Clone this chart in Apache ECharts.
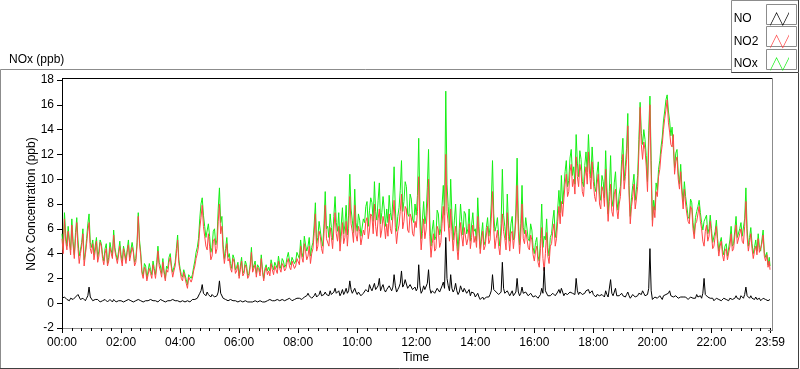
<!DOCTYPE html>
<html>
<head>
<meta charset="utf-8">
<script src="https://cdn.jsdelivr.net/npm/echarts@6/dist/echarts.min.js"></script>
<style>
html,body{margin:0;padding:0;background:#fff;}
#c{width:800px;height:369px;}
</style>
</head>
<body>
<div id="c"></div>
<script>
// Sampling: one value every 2.5 minutes from 00:00, last value at 23:59
const SAMPLE_MIN = 2.5;
const LAST_MIN = 1439;
const seriesNames = ['NO', 'NO2', 'NOx'];

const NO2 = [
 5.2,4.0,6.8,5.0,4.3,5.8,4.9,3.9,6.3,4.7,3.6,5.2,6.5,4.4,3.2,4.0,4.6,5.6,3.0,3.9,4.8,5.8,6.5,4.4,
 4.0,4.8,3.5,4.2,5.0,3.3,3.8,4.9,4.6,3.6,3.1,4.0,4.4,3.0,3.4,4.5,4.0,3.6,5.5,4.2,3.7,3.2,3.9,4.6,
 3.6,3.0,4.4,3.8,3.2,4.1,4.7,3.4,3.5,4.5,4.1,3.0,3.3,4.6,7.0,4.8,3.8,2.4,2.0,2.9,2.7,1.8,2.3,2.8,
 2.4,2.0,3.1,2.6,2.0,2.9,4.2,3.0,2.6,2.1,3.3,2.4,1.8,2.7,2.5,3.3,3.7,2.8,2.1,2.6,3.0,4.0,5.1,3.2,
 2.6,2.0,1.8,2.5,2.4,1.6,1.2,2.1,2.2,1.7,2.0,2.6,3.0,3.6,4.0,4.6,6.0,6.9,7.9,6.2,5.4,4.6,4.3,5.6,
 4.6,3.5,3.8,5.0,5.2,4.0,4.4,6.6,8.0,5.6,6.2,4.2,3.2,4.0,4.8,3.4,3.6,2.8,2.5,3.6,3.3,2.4,2.6,3.1,
 2.0,2.7,3.4,2.2,2.4,3.1,2.8,2.0,2.2,2.9,4.1,2.5,2.6,3.1,2.1,2.9,2.7,2.2,3.6,2.5,1.8,2.6,2.9,2.3,
 2.6,2.2,3.2,2.7,2.3,3.0,2.9,2.4,3.4,2.8,2.5,3.2,3.0,2.6,2.8,3.3,3.6,2.9,2.7,3.4,3.3,2.8,3.0,3.6,
 3.6,3.1,4.6,3.7,3.3,4.8,4.2,3.5,3.8,4.6,3.2,4.0,4.4,5.6,7.2,4.2,4.6,5.8,5.4,4.4,4.0,5.6,7.9,5.2,
 5.2,4.6,6.1,5.3,4.4,6.0,7.3,5.6,5.0,6.2,4.2,5.4,6.5,4.8,5.3,6.6,4.6,6.0,8.6,6.4,5.8,4.9,7.9,5.5,
 5.0,6.2,5.8,4.7,4.6,5.9,5.5,6.6,6.9,5.2,5.9,7.2,7.0,5.6,8.0,6.2,5.4,6.8,7.6,5.3,5.9,7.0,6.4,5.2,
 6.4,5.4,7.2,6.0,5.6,7.0,8.3,6.1,4.8,5.8,6.3,7.4,8.8,6.0,6.6,7.8,7.6,5.9,5.7,7.2,6.9,5.6,5.4,6.6,
 6.1,7.4,10.2,6.3,4.3,5.6,6.8,5.2,5.9,7.6,10.0,5.4,3.7,4.8,5.6,4.2,4.4,6.2,5.9,4.5,4.9,6.4,7.8,5.8,
 12.0,7.4,6.4,5.0,7.6,5.8,4.2,5.5,6.2,4.6,3.5,5.0,6.5,5.4,4.6,6.1,6.0,4.7,5.2,6.4,4.4,5.3,6.3,4.9,
 5.4,4.5,7.0,5.6,4.0,5.0,5.8,4.3,4.6,5.5,6.2,4.8,5.1,6.8,9.0,6.0,4.4,5.2,5.9,4.6,3.9,5.4,7.2,5.8,
 5.2,4.3,7.3,5.4,4.2,5.6,5.8,4.4,4.5,6.6,9.5,5.8,4.0,5.5,8.0,5.2,4.8,5.9,6.0,4.5,4.3,5.5,5.1,3.9,
 3.4,4.2,4.6,3.3,2.9,4.4,6.1,3.6,2.6,4.0,5.7,3.8,3.2,4.6,4.8,5.8,6.4,4.6,5.2,6.6,7.8,6.4,8.2,7.0,
 8.4,9.6,10.4,8.6,9.0,10.6,11.2,9.4,10.0,8.8,11.8,10.2,9.4,11.2,10.6,9.0,8.6,10.2,11.0,9.6,12.2,10.4,9.2,11.4,
 9.8,8.6,8.2,9.6,10.4,8.0,7.6,9.4,9.0,7.8,10.8,8.4,6.6,8.2,9.6,7.4,7.0,8.8,9.2,7.6,6.8,8.0,8.6,10.6,
 12.0,9.2,10.2,11.6,14.3,8.8,6.4,7.8,8.6,9.6,7.6,8.4,9.4,12.2,15.8,12.8,11.6,13.0,12.4,11.0,9.0,12.6,16.0,10.4,
 6.2,7.8,6.9,9.0,8.6,10.2,10.8,12.0,12.8,14.0,14.9,15.6,16.4,14.6,13.8,12.8,12.6,13.6,10.4,11.4,11.8,10.0,9.2,10.6,
 8.8,7.6,9.2,8.0,7.2,6.6,6.4,7.8,7.6,6.0,5.2,6.4,6.6,7.2,7.8,6.6,6.0,5.0,4.6,5.8,6.3,5.0,5.4,6.6,
 5.6,4.4,4.6,5.4,6.2,4.8,3.8,4.6,5.0,3.9,3.4,4.2,4.4,3.5,3.6,4.6,5.6,4.2,4.4,5.4,6.3,4.8,4.9,5.6,
 6.0,5.0,4.8,6.2,8.2,5.4,4.2,4.9,5.6,4.4,3.6,4.2,4.6,3.9,5.2,4.1,4.0,4.8,5.5,3.8,3.4,3.9,2.9,3.4,
 2.7
];

const NO = [
 0.4,0.3,0.5,0.6,0.3,0.4,0.2,0.4,0.5,0.3,0.3,0.5,0.4,0.7,0.6,0.3,0.3,0.4,0.5,0.2,0.4,0.6,1.3,0.5,
 0.4,0.2,0.3,0.3,0.2,0.3,0.3,0.1,0.1,0.2,0.2,0.3,0.3,0.1,0.2,0.3,0.2,0.1,0.3,0.2,0.1,0.2,0.2,0.3,
 0.2,0.3,0.1,0.2,0.2,0.1,0.3,0.2,0.2,0.3,0.1,0.2,0.2,0.2,0.3,0.2,0.2,0.1,0.1,0.2,0.2,0.1,0.2,0.3,
 0.3,0.2,0.2,0.1,0.2,0.3,0.1,0.2,0.3,0.2,0.2,0.1,0.1,0.2,0.2,0.3,0.2,0.1,0.3,0.2,0.2,0.3,0.2,0.2,
 0.1,0.2,0.2,0.1,0.1,0.2,0.2,0.1,0.1,0.2,0.3,0.2,0.3,0.4,0.4,0.5,0.8,1.0,1.5,0.8,0.7,0.6,0.9,0.7,
 0.6,0.5,0.7,0.6,0.5,0.6,0.6,0.9,1.8,0.8,0.7,0.4,0.3,0.3,0.3,0.2,0.2,0.3,0.2,0.2,0.1,0.2,0.2,0.1,
 0.1,0.2,0.2,0.1,0.1,0.2,0.2,0.1,0.1,0.1,0.2,0.1,0.1,0.2,0.2,0.1,0.1,0.2,0.1,0.1,0.2,0.1,0.1,0.2,
 0.2,0.3,0.2,0.2,0.3,0.2,0.2,0.3,0.3,0.2,0.2,0.3,0.3,0.2,0.2,0.3,0.3,0.4,0.3,0.2,0.2,0.3,0.3,0.4,
 0.3,0.4,0.4,0.3,0.3,0.5,0.5,0.6,0.8,0.6,0.5,0.4,0.4,0.6,0.8,0.5,0.6,0.7,1.0,0.6,0.5,0.7,0.9,0.7,
 0.8,0.6,1.0,0.7,0.6,0.9,1.2,0.8,0.7,1.0,0.6,0.8,1.1,0.7,0.9,1.2,0.8,1.0,1.8,1.1,0.8,0.7,1.2,0.9,
 0.7,0.9,0.8,0.6,0.6,0.8,0.9,1.1,1.2,0.9,1.5,1.2,1.0,0.9,1.6,1.1,1.2,1.4,2.0,1.0,1.3,1.5,1.1,0.9,
 1.1,1.0,1.4,1.2,1.0,1.3,2.3,1.4,0.9,1.1,1.3,1.6,2.6,1.3,1.5,1.9,1.8,1.2,1.2,1.5,1.4,1.1,1.0,1.3,
 1.0,1.2,3.1,1.4,0.8,1.0,1.4,1.1,1.2,1.6,2.7,1.2,0.8,1.0,1.0,0.8,0.9,1.2,1.3,0.9,1.0,1.4,1.7,1.2,
 5.3,2.0,1.4,1.0,2.3,1.2,0.9,1.1,1.6,1.0,0.7,0.9,1.4,1.1,0.9,1.2,1.1,0.8,0.8,1.1,0.6,0.9,1.0,0.8,
 0.5,0.4,0.8,0.5,0.3,0.4,0.5,0.3,0.3,0.5,0.6,0.5,0.7,1.0,2.3,1.1,1.2,0.9,0.8,0.7,0.6,0.9,3.3,1.2,
 0.8,0.7,1.0,0.8,0.6,0.7,1.0,0.6,0.6,0.9,2.0,0.9,0.6,0.8,1.3,0.8,0.7,0.9,0.9,0.6,0.6,0.8,0.7,0.5,
 0.5,0.6,0.6,0.4,0.4,0.7,1.2,0.8,2.9,1.0,0.9,0.6,0.5,0.6,0.7,0.8,0.9,0.6,0.6,0.9,1.1,0.8,1.2,0.9,
 0.6,0.8,0.9,0.7,0.7,0.9,1.0,0.8,0.8,0.7,2.0,1.0,0.7,0.9,0.8,0.7,0.6,0.8,1.0,0.9,1.1,0.8,0.7,1.0,
 0.7,0.6,0.5,0.7,0.8,0.6,0.5,0.7,0.6,0.5,1.0,0.7,0.5,0.6,1.9,0.8,0.6,0.7,1.2,0.6,0.5,0.6,0.6,0.8,
 0.6,0.5,0.5,0.7,0.9,0.6,0.4,0.5,0.7,0.6,0.5,0.6,0.6,0.8,0.9,0.7,1.0,0.8,0.6,0.7,0.7,1.2,4.4,1.0,
 0.3,0.4,0.5,0.6,0.4,0.5,0.6,0.5,0.3,0.6,0.5,0.7,0.7,0.8,1.0,0.6,0.6,0.5,0.4,0.6,0.5,0.4,0.3,0.5,
 0.4,0.5,0.6,0.5,0.4,0.3,0.3,0.5,0.5,0.4,0.3,0.4,0.7,0.5,0.5,0.6,0.4,0.8,2.0,0.7,0.8,0.5,0.5,0.4,
 0.3,0.4,0.2,0.3,0.4,0.3,0.3,0.2,0.2,0.3,0.4,0.3,0.3,0.2,0.2,0.4,0.5,0.3,0.3,0.4,0.6,0.4,0.5,0.3,
 0.6,0.5,0.4,0.7,1.3,0.6,0.5,0.4,0.6,0.4,0.4,0.3,0.5,0.3,0.3,0.4,0.2,0.3,0.4,0.3,0.3,0.2,0.2,0.3,
 0.3
];

const NOX = [
 5.6,4.3,7.3,5.6,4.6,6.2,5.1,4.3,6.8,5.0,3.9,5.7,6.9,5.1,3.8,4.3,4.9,6.0,3.5,4.1,5.2,6.4,7.2,4.9,
 4.5,5.1,3.9,4.6,5.3,3.7,4.2,5.1,4.8,3.9,3.4,4.4,4.8,3.2,3.7,4.9,4.3,3.8,5.9,4.5,3.9,3.5,4.2,5.0,
 3.9,3.4,4.6,4.1,3.5,4.3,5.1,3.7,3.8,4.9,4.3,3.3,3.6,4.9,7.3,5.1,4.1,2.6,2.2,3.2,3.0,2.0,2.6,3.2,
 2.7,2.3,3.4,2.8,2.3,3.3,4.6,3.3,3.0,2.4,3.6,2.6,2.0,3.0,2.8,3.7,4.0,3.0,2.5,2.9,3.3,4.4,5.5,3.5,
 2.8,2.3,2.1,2.7,2.6,1.9,1.5,2.3,2.4,2.0,2.3,2.9,3.4,4.1,4.5,5.2,6.8,8.0,8.5,7.1,6.2,5.3,5.2,6.4,
 5.4,4.1,4.5,5.8,6.0,4.7,5.1,7.6,9.3,6.5,7.0,4.7,3.6,4.4,5.3,3.7,4.0,3.2,2.8,3.9,3.6,2.7,2.9,3.3,
 2.2,3.0,3.7,2.4,2.6,3.4,3.1,2.2,2.4,3.1,4.5,2.7,2.8,3.4,2.4,3.1,2.9,2.5,3.9,2.7,2.0,2.8,3.1,2.6,
 2.9,2.6,3.5,3.0,2.7,3.3,3.2,2.8,3.8,3.1,2.8,3.6,3.4,2.9,3.1,3.7,4.1,3.4,3.1,3.7,3.6,3.2,3.4,4.1,
 4.0,3.6,5.1,4.1,3.7,5.4,4.7,4.2,4.6,5.3,3.8,4.5,4.9,6.3,8.1,4.8,5.3,6.6,6.5,5.1,4.6,6.4,9.0,6.0,
 6.2,5.3,7.2,6.1,5.1,7.0,8.6,6.5,5.8,7.3,4.9,6.3,7.7,5.6,6.3,7.9,5.5,7.1,10.4,7.6,6.7,5.7,9.2,6.5,
 5.8,7.2,6.7,5.4,5.3,6.8,6.5,7.8,8.2,6.2,7.5,8.5,8.1,6.6,9.8,7.4,6.7,8.3,9.7,6.4,7.3,8.6,7.6,6.2,
 7.6,6.5,8.7,7.3,6.7,8.4,11.0,7.6,5.8,7.0,7.7,9.1,11.5,7.4,8.2,9.8,9.4,7.2,7.0,8.8,8.4,6.8,6.5,8.0,
 7.1,8.7,13.3,7.8,5.2,6.7,8.2,6.4,7.1,9.3,12.4,6.7,4.6,5.9,6.7,5.1,5.4,7.5,7.2,5.5,6.0,7.9,9.5,7.1,
 17.1,9.6,7.8,6.1,10.0,7.1,5.1,6.7,8.0,5.7,4.2,6.0,8.0,6.6,5.5,7.4,7.2,5.6,6.0,7.6,5.0,6.3,7.3,5.8,
 6.0,5.0,8.5,6.2,4.4,5.5,6.5,4.7,5.0,6.1,6.9,5.4,6.1,8.0,11.5,7.2,5.8,6.2,6.9,5.4,4.6,6.4,10.8,7.1,
 6.2,5.1,8.8,6.3,5.0,6.4,7.0,5.1,5.3,7.6,11.7,6.8,4.7,6.4,9.5,6.1,5.6,6.9,7.0,5.2,5.0,6.4,5.9,4.5,
 4.0,4.9,5.3,3.8,3.4,5.2,8.0,4.5,5.4,5.1,6.8,4.5,3.8,5.3,5.6,6.7,7.5,5.3,5.9,7.6,9.1,7.3,10.3,8.0,
 9.2,10.6,11.5,9.4,9.9,11.7,12.4,10.3,11.0,9.6,13.6,11.3,10.2,12.3,11.6,9.8,9.4,11.1,12.2,10.6,13.6,11.3,10.1,12.6,
 10.8,9.4,9.0,10.5,11.4,8.8,8.3,10.3,9.8,8.5,12.3,9.3,7.2,9.0,11.9,8.4,7.8,9.7,10.6,8.4,7.5,8.8,9.4,11.6,
 13.3,9.9,11.0,12.5,15.3,9.5,7.0,8.5,9.5,10.4,8.3,9.2,10.3,13.2,16.2,13.7,12.8,14.0,13.2,11.9,9.8,13.9,16.7,11.5,
 6.7,8.3,7.5,9.7,9.1,10.8,11.5,12.6,13.4,14.7,15.5,16.4,16.8,15.5,14.7,13.5,14.2,14.2,10.9,12.1,12.4,10.5,9.6,11.2,
 9.3,8.2,9.8,8.6,7.8,7.0,6.8,8.4,8.1,6.5,5.6,6.9,7.4,7.8,8.3,7.3,6.5,5.9,6.6,6.6,7.1,5.6,6.0,7.1,
 6.0,4.9,4.9,5.8,6.7,5.2,4.2,4.9,5.3,4.3,3.9,4.6,4.8,3.8,3.9,5.1,6.2,4.6,4.8,5.9,7.0,5.3,5.4,6.0,
 6.5,5.4,5.3,6.8,9.3,6.0,4.6,5.3,6.1,4.8,4.0,4.5,5.1,4.2,5.6,4.5,4.2,5.1,5.9,4.1,3.7,4.1,3.1,3.7,
 3.0
];

const yTicks = { min: -2, max: 18, interval: 2 };
const xTicks = { min: 0, max: LAST_MIN, interval: 120 };

const times = NO2.map((_, i) => Math.min(i * SAMPLE_MIN, LAST_MIN));
const pairs = arr => arr.map((v, i) => [times[i], v]);

const FONT = 'Liberation Sans';
const GRAY = '#8c8c8c';
const DARK = '#404040';
const colors = { NO: '#000000', NO2: '#ff4646', NOx: '#14f014' };
const ZIG = 'path://M0,16 L8,0 L16,16 L24,0 L24,2 L16,18 L8,2 L0,18 Z';

function fmtTime(v) {
  const h = Math.floor(v / 60), m = Math.round(v % 60);
  return String(h).padStart(2, '0') + ':' + String(m).padStart(2, '0');
}

const chart = echarts.init(document.getElementById('c'), null, { renderer: 'canvas' });
chart.setOption({
  animation: false,
  backgroundColor: '#ffffff',
  textStyle: { fontFamily: FONT },
  title: {
    text: 'NOx (ppb)', left: 4, top: 49,
    textStyle: { fontFamily: FONT, fontSize: 12, fontWeight: 'normal', color: '#000' }
  },
  graphic: [
    { type: 'polyline', z: 0, silent: true, shape: { points: [[0.5, 368], [0.5, 69.5], [731, 69.5]] }, style: { stroke: GRAY, fill: null, lineWidth: 1 } },
    { type: 'polyline', z: 0, silent: true, shape: { points: [[0, 368.5], [798.5, 368.5], [798.5, 72]] }, style: { stroke: DARK, fill: null, lineWidth: 1 } },
    { type: 'rect', z: 1, silent: true, shape: { x: 731, y: 0, width: 69, height: 73 }, style: { fill: '#fff', stroke: null } },
    { type: 'polyline', z: 1, silent: true, shape: { points: [[731.5, 73], [731.5, 0.5], [799, 0.5]] }, style: { stroke: GRAY, fill: null, lineWidth: 1 } },
    { type: 'polyline', z: 1, silent: true, shape: { points: [[731.5, 72.5], [798.5, 72.5], [798.5, 0]] }, style: { stroke: DARK, fill: null, lineWidth: 1 } },
    { type: 'rect', z: 1, silent: true, shape: { x: 766.5, y: 4.5, width: 30, height: 20 }, style: { fill: '#fff', stroke: GRAY, lineWidth: 1 } },
    { type: 'rect', z: 1, silent: true, shape: { x: 766.5, y: 26.5, width: 30, height: 20 }, style: { fill: '#fff', stroke: GRAY, lineWidth: 1 } },
    { type: 'rect', z: 1, silent: true, shape: { x: 766.5, y: 49.5, width: 30, height: 20 }, style: { fill: '#fff', stroke: GRAY, lineWidth: 1 } },
    { type: 'line', z: 1, silent: true, shape: { x1: 62, y1: 78.5, x2: 772, y2: 78.5 }, style: { stroke: '#000', lineWidth: 1 } },
    { type: 'line', z: 1, silent: true, shape: { x1: 62.5, y1: 78, x2: 62.5, y2: 81 }, style: { stroke: '#000', lineWidth: 1 } },
    { type: 'line', z: 1, silent: true, shape: { x1: 772.5, y1: 78, x2: 772.5, y2: 331 }, style: { stroke: GRAY, lineWidth: 1 } },
    { type: 'line', z: 1, silent: true, shape: { x1: 768, y1: 330.5, x2: 773, y2: 330.5 }, style: { stroke: GRAY, lineWidth: 1 } }
  ],
  legend: {
    orient: 'vertical', right: 6, top: 7, z: 10,
    align: 'right', itemWidth: 24, itemHeight: 14, itemGap: 8.5,
    selectedMode: false,
    data: seriesNames.map(n => ({ name: n, icon: ZIG, itemStyle: { color: colors[n], borderWidth: 0 } })),
    formatter: n => '{t|' + n + '}',
    textStyle: {
      fontFamily: FONT, fontSize: 12, color: '#000',
      rich: { t: { width: 29, align: 'left', fontFamily: FONT, fontSize: 12, color: '#000' } }
    }
  },
  grid: { left: 62, right: 30, top: 80, bottom: 39, containLabel: false },
  xAxis: {
    type: 'value', min: xTicks.min, max: xTicks.max, interval: xTicks.interval,
    name: 'Time', nameLocation: 'middle', nameGap: 24, nameMoveOverlap: false,
    nameTextStyle: { fontFamily: FONT, fontSize: 12, color: '#000' },
    axisLine: { show: true, onZero: false, lineStyle: { color: GRAY, width: 1 } },
    axisTick: { show: true, inside: false, length: 5, lineStyle: { color: '#000' } },
    minorTick: { show: true, splitNumber: 6, length: 3, lineStyle: { color: '#000' } },
    splitLine: { show: false },
    axisLabel: {
      margin: 9, fontFamily: FONT, fontSize: 12, color: '#000',
      showMinLabel: true, showMaxLabel: true, hideOverlap: false,
      formatter: v => fmtTime(v)
    }
  },
  yAxis: {
    type: 'value', min: yTicks.min, max: yTicks.max, interval: yTicks.interval,
    name: 'NOx Concentration (ppb)', nameLocation: 'middle', nameGap: 24, nameRotate: 90, nameMoveOverlap: false,
    nameTextStyle: { fontFamily: FONT, fontSize: 12, color: '#000' },
    axisLine: { show: true, onZero: false, lineStyle: { color: '#000', width: 1 } },
    axisTick: { show: true, inside: false, length: 5, lineStyle: { color: '#000' } },
    splitLine: { show: false },
    axisLabel: { margin: 8, fontFamily: FONT, fontSize: 12, color: '#000' }
  },
  series: [
    { name: 'NOx', type: 'line', data: pairs(NOX), showSymbol: false, symbol: 'none', z: 2,
      lineStyle: { color: colors.NOx, width: 1 }, itemStyle: { color: colors.NOx } },
    { name: 'NO2', type: 'line', data: pairs(NO2), showSymbol: false, symbol: 'none', z: 3,
      lineStyle: { color: colors.NO2, width: 1 }, itemStyle: { color: colors.NO2 } },
    { name: 'NO', type: 'line', data: pairs(NO), showSymbol: false, symbol: 'none', z: 4,
      lineStyle: { color: colors.NO, width: 1 }, itemStyle: { color: colors.NO } }
  ]
});
</script>
</body>
</html>
